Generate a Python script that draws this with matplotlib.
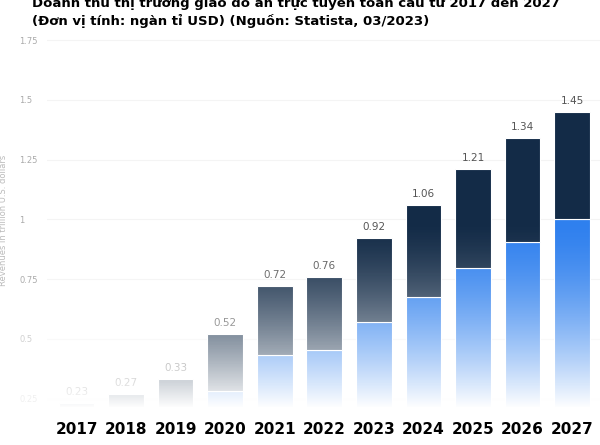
import numpy as np
import matplotlib.pyplot as plt

years = ['2017', '2018', '2019', '2020', '2021', '2022', '2023', '2024', '2025', '2026', '2027']
totals = [0.23, 0.27, 0.33, 0.52, 0.72, 0.76, 0.92, 1.06, 1.21, 1.34, 1.45]
lower = [0.12, 0.15, 0.2, 0.28, 0.43, 0.455, 0.57, 0.675, 0.795, 0.905, 1.0]  # blue part
yticks = [0.25, 0.5, 0.75, 1, 1.25, 1.5, 1.75]
ytick_labels = ['0.25', '0.5', '0.75', '1', '1.25', '1.5', '1.75']

upper = [t - l for t, l in zip(totals, lower)]
x = np.arange(len(years))

fig = plt.figure(figsize=(6, 4.45), dpi=100)
ax = fig.add_axes([0.078, 0.083, 0.925, 0.843])

ax.bar(x, lower, width=0.72, color='#2f80ee', edgecolor='white', linewidth=0.8, zorder=2)
ax.bar(x, upper, bottom=lower, width=0.72, color='#132b47', edgecolor='white', linewidth=0.8, zorder=2)
for xi, t in zip(x, totals):
    ax.text(xi, t + 0.025, f'{t:.2f}', ha='center', va='bottom', fontsize=7.5, color='#555555', zorder=3)

ax.set_xlim(-0.6, 10.6)
ax.set_ylim(0.21, 1.78)
ax.set_yticks(yticks)
ax.set_yticklabels(ytick_labels, fontsize=6, color='#aaaaaa')
ax.tick_params(axis='y', length=0, pad=-6)
for lbl in ax.get_yticklabels():
    lbl.set_horizontalalignment('left')
    lbl.set_x(-0.065)
ax.get_yticklabels()[0].set_color('#f0f0f0')
ax.get_yticklabels()[1].set_color('#d0d0d0')
ax.set_xticks(x)
ax.set_xticklabels(years, fontsize=11, fontweight='bold')
ax.tick_params(axis='x', length=0, pad=10)
ax.grid(axis='y', color='#f4f4f4', linewidth=0.8, zorder=0)
ax.set_axisbelow(True)
for s in ax.spines.values():
    s.set_visible(False)
ax.set_ylabel('Revenues in trillion U.S. dollars', fontsize=6, color='#bbbbbb', labelpad=8)

# white fade over the lower part of the chart
fade = np.ones((256, 1, 4))
fade[..., 3] = np.clip(1 - np.linspace(0, 1, 256) / 0.5, 0, 1)[:, None] ** 1.5
ax.imshow(fade, extent=[-0.6, 10.6, 0.21, 1.78], origin='lower', aspect='auto', zorder=5)

fig.text(0.053, 0.993, 'Doanh thu thị trường giao đồ ăn trực tuyến toàn cầu từ 2017 đến 2027',
         fontsize=9.5, fontweight='bold', va='center')
fig.text(0.053, 0.953, '(Đơn vị tính: ngàn tỉ USD) (Nguồn: Statista, 03/2023)',
         fontsize=9.5, fontweight='bold', va='center')

fig.savefig('out.png', dpi=100)
